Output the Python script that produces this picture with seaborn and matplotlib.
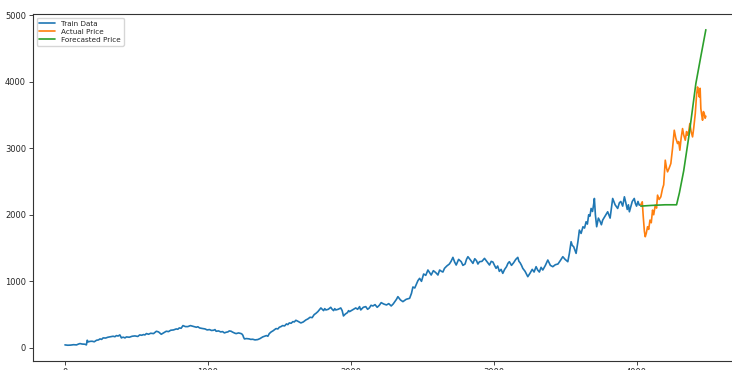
"""
Train / actual / forecasted price line chart.
"""

import numpy as np
import pandas as pd
import matplotlib
matplotlib.use("Agg")
import matplotlib.pyplot as plt
import seaborn as sns

sns.set_theme(style="ticks", palette="tab10")
plt.rcParams["font.family"] = ["DejaVu Sans"]

# values
train_x = [0, 20, 40, 60, 81, 95, 105, 120, 140, 150, 156, 163, 175, 190, 205, 221, 235, 245,
           257, 267, 285, 300, 320, 337, 350, 360, 372, 384, 395, 402, 410, 420, 430, 450,
           470, 490, 510, 523, 537, 550, 560, 570, 585, 600, 620, 640, 655, 674, 690, 709,
           725, 740, 760, 779, 790, 800, 813, 826, 843, 860, 878, 895, 908, 920, 930, 942,
           960, 980, 995, 1012, 1025, 1040, 1050, 1058, 1075, 1090, 1103, 1116, 1128, 1140,
           1150, 1163, 1172, 1180, 1190, 1198, 1215, 1233, 1240, 1245, 1250, 1256, 1270,
           1290, 1300, 1314, 1330, 1349, 1365, 1384, 1398, 1410, 1420, 1430, 1443, 1455,
           1465, 1477, 1490, 1500, 1512, 1523, 1537, 1550, 1560, 1570, 1583, 1595, 1605,
           1616, 1630, 1651, 1668, 1686, 1700, 1715, 1730, 1744, 1757, 1770, 1780, 1791,
           1800, 1810, 1818, 1826, 1843, 1860, 1870, 1880, 1888, 1895, 1912, 1930, 1940,
           1949, 1963, 1977, 1985, 1992, 2012, 2035, 2048, 2062, 2066, 2070, 2088, 2105,
           2118, 2130, 2142, 2155, 2170, 2185, 2200, 2213, 2230, 2250, 2266, 2283, 2297,
           2310, 2320, 2330, 2348, 2365, 2388, 2412, 2425, 2435, 2448, 2460, 2470, 2482,
           2495, 2510, 2525, 2540, 2552, 2563, 2578, 2590, 2600, 2610, 2622, 2635, 2645,
           2656, 2672, 2690, 2702, 2715, 2727, 2738, 2755, 2773, 2785, 2800, 2810, 2820,
           2838, 2855, 2868, 2880, 2890, 2901, 2918, 2936, 2955, 2971, 2983, 2995, 3006,
           3017, 3028, 3040, 3052, 3064, 3077, 3090, 3100, 3110, 3125, 3140, 3155, 3169,
           3177, 3185, 3195, 3204, 3220, 3239, 3254, 3270, 3283, 3297, 3308, 3320, 3332,
           3344, 3362, 3379, 3397, 3414, 3432, 3450, 3466, 3484, 3500, 3519, 3530, 3542,
           3550, 3560, 3570, 3577, 3590, 3600, 3612, 3625, 3636, 3647, 3656, 3665, 3674,
           3682, 3692, 3700, 3705, 3712, 3721, 3733, 3745, 3754, 3763, 3780, 3798, 3806,
           3815, 3824, 3833, 3850, 3868, 3880, 3890, 3903, 3915, 3925, 3935, 3943, 3950,
           3960, 3970, 3984, 3992, 4000, 4010, 4019, 4030]
train_y = [45, 40, 42, 48, 45, 58, 65, 58, 55, 45, 115, 90, 98, 100, 92, 115, 120, 135,
           128, 150, 148, 160, 168, 175, 168, 185, 178, 195, 150, 158, 160, 150, 165, 160,
           175, 180, 172, 195, 190, 200, 195, 215, 205, 220, 215, 250, 240, 205, 225, 250,
           245, 265, 270, 285, 280, 300, 295, 335, 320, 320, 335, 325, 318, 310, 318, 300,
           292, 285, 270, 275, 262, 265, 275, 250, 255, 240, 245, 225, 235, 240,
           255, 250, 238, 230, 220, 215, 225, 215, 205, 190, 160, 135, 140,
           135, 128, 130, 120, 125, 140, 165, 175, 185, 175, 215, 240, 255,
           270, 290, 285, 310, 320, 335, 330, 360, 350, 375, 370, 395, 390,
           415, 400, 375, 390, 420, 435, 460, 455, 500, 520, 545, 570, 600,
           580, 560, 590, 570, 580, 610, 580, 560, 590, 570, 580, 600, 560,
           480, 510, 530, 560, 545, 570, 600, 580, 620, 590, 570, 610, 620,
           580, 600, 640, 630, 650, 610, 640, 680, 660, 645, 665, 630, 660,
           700, 730, 770, 720, 695, 730, 745, 820, 915, 900, 960, 1010, 1045,
           1000, 1110, 1090, 1170, 1130, 1095, 1160, 1140, 1120, 1095, 1170, 1150, 1140,
           1195, 1230, 1260, 1300, 1360, 1290, 1245, 1330, 1295, 1240, 1260, 1330, 1370,
           1320, 1270, 1340, 1310, 1260, 1295, 1300, 1345, 1290, 1245, 1300, 1290, 1240,
           1195, 1230, 1150, 1180, 1120, 1180, 1220, 1270, 1295, 1240, 1280, 1330, 1360,
           1300, 1280, 1240, 1195, 1150, 1070, 1120, 1180, 1140, 1220, 1170, 1140, 1210,
           1170, 1240, 1320, 1240, 1220, 1250, 1260, 1310, 1370, 1330, 1295, 1420, 1595,
           1540, 1520, 1460, 1420, 1600, 1770, 1720, 1820, 1800, 1895, 1860, 2000, 1980,
           2095, 2050, 2160, 2245, 2000, 1820, 1950, 1900, 1850, 1920, 1980, 2045, 2000,
           1950, 2100, 2245, 2150, 2095, 2180, 2200, 2130, 2270, 2180, 2080, 2150, 2045,
           2120, 2200, 2245, 2170, 2130, 2200, 2145, 2150]

actual_x = [4030, 4040, 4047, 4055, 4061, 4068, 4077, 4085, 4094, 4103, 4112, 4120, 4131,
            4140, 4147, 4158, 4170, 4182, 4190, 4201, 4210, 4217, 4228, 4240, 4252, 4264,
            4275, 4287, 4295, 4303, 4312, 4322, 4330, 4341, 4350, 4357, 4365, 4373, 4382,
            4392, 4400, 4411, 4420, 4427, 4433, 4439, 4445, 4450, 4456, 4462, 4468, 4474,
            4480, 4485]
actual_y = [2150, 2195, 1970, 1750, 1670, 1720, 1820, 1780, 1920, 1880, 2070, 2000, 2145,
            2100, 2295, 2230, 2270, 2395, 2450, 2820, 2700, 2645, 2700, 2770, 3000, 3270,
            3150, 3070, 3100, 2970, 3150, 3295, 3200, 3120, 3250, 3195, 3250, 3370, 3250,
            3170, 3300, 3520, 3800, 3920, 3850, 3770, 3900, 3595, 3500, 3420, 3550, 3520,
            3450, 3480]

forecast_x = [4030, 4100, 4200, 4280, 4300, 4330, 4369, 4415, 4450, 4485]
forecast_y = [2130, 2140, 2150, 2150, 2330, 2660, 3220, 3970, 4380, 4780]

fig = plt.figure(figsize=(7.32, 3.70), dpi=100)
ax = fig.add_axes([0.045, 0.0243, 0.963, 0.938])

series = [
    ("Train Data", train_x, train_y, "#1f77b4"),
    ("Actual Price", actual_x, actual_y, "#ff7f0e"),
    ("Forecasted Price", forecast_x, forecast_y, "#2ca02c"),
]
for label, xs, ys, color in series:
    df = pd.DataFrame({"x": xs, "y": ys})
    sns.lineplot(data=df, x="x", y="y", ax=ax, color=color, linewidth=1.2,
                 estimator=None, sort=False, label=label)

ax.set_xlabel("")
ax.set_ylabel("")
ax.set_xticks([0, 1000, 2000, 3000, 4000])
ax.set_yticks([0, 1000, 2000, 3000, 4000, 5000])
ax.set_xlim(-224, 4709)
ax.tick_params(labelsize=6, length=3, width=0.6, pad=2)
for s in ax.spines.values():
    s.set_linewidth(0.8)
    s.set_color("#333333")
ax.legend(loc="upper left", fontsize=5.2, frameon=True, handlelength=2.2,
          borderpad=0.4, labelspacing=0.3, fancybox=True, framealpha=0.8)

plt.savefig("out.png", dpi=100)
plt.close()
